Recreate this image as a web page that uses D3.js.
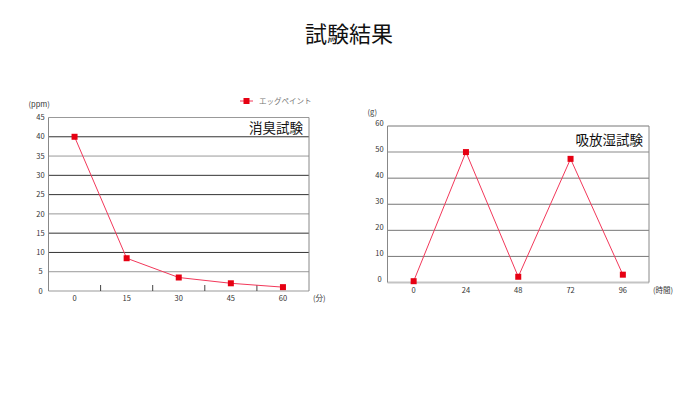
<!DOCTYPE html>
<html>
<head>
<meta charset="utf-8">
<script src="https://cdn.jsdelivr.net/npm/d3@7"></script>
<style>
	body { margin: 0; background: #fff; }
	svg { display: block; font-family: "Noto Sans CJK JP", "Noto Sans", sans-serif; }
</style>
</head>
<body>
<svg id="chart" width="700" height="400"></svg>
<script>
(function(){
	'use strict';

	// 消臭試験 data
	var odorMinutes = ["0", "15", "30", "45", "60"];
	var odorPpm = [40, 8.5, 3.5, 2, 1];
	var odorTicks = [0, 5, 10, 15, 20, 25, 30, 35, 40, 45];

	// 吸放湿試験 data
	var humidHours = ["0", "24", "48", "72", "96"];
	var humidGrams = [0.5, 50, 2.2, 47.4, 3];
	var humidTicks = [0, 10, 20, 30, 40, 50, 60];

	var seriesName = "エッグペイント";
	var red = "#e60012";
	var lineRed = "#f2385a";

	var svg = d3.select("#chart");

	svg.append("text")
		.attr("x", 349)
		.attr("y", 42)
		.attr("text-anchor", "middle")
		.attr("font-size", 22)
		.attr("fill", "#111")
		.text("試験結果");

	function drawChart(opt){
		var xScale = d3.scaleBand()
			.domain(opt.categories)
			.range([opt.left, opt.right])
			.padding(0);
		var yScale = d3.scaleLinear()
			.domain([0, opt.max])
			.range([opt.bottom, opt.top]);

		var g = svg.append("g");

		// grid lines
		g.append("g")
			.selectAll("line")
			.data(opt.ticks)
		.enter().append("line")
			.attr("x1", opt.left)
			.attr("x2", opt.right)
			.attr("y1", function(d){ return yScale(d); })
			.attr("y2", function(d){ return yScale(d); })
			.attr("stroke", function(d){ return opt.gridColor(d); })
			.attr("stroke-width", function(d){ return opt.gridWidth(d); });

		// side borders
		g.append("line")
			.attr("x1", opt.left).attr("x2", opt.left)
			.attr("y1", yScale(opt.max)).attr("y2", yScale(0))
			.attr("stroke", "#888");
		g.append("line")
			.attr("x1", opt.right).attr("x2", opt.right)
			.attr("y1", yScale(opt.max)).attr("y2", yScale(0))
			.attr("stroke", "#888");

		// y labels
		g.append("g")
			.selectAll("text")
			.data(opt.ticks)
		.enter().append("text")
			.attr("x", opt.left - 8)
			.attr("y", function(d){ return yScale(d) + opt.labelShift; })
			.attr("dy", "0.35em")
			.attr("text-anchor", "middle")
			.attr("font-size", 7.5)
			.attr("fill", "#333")
			.text(function(d){ return d; });

		// x axis: labels and inner ticks between categories
		var xAxis = d3.axisBottom(xScale).tickSize(0).tickPadding(5);
		var gx = g.append("g")
			.attr("transform", "translate(0," + yScale(0) + ")")
			.call(xAxis);
		gx.select(".domain").remove();
		gx.selectAll("text")
			.attr("font-size", 7.5)
			.attr("font-family", "\"Noto Sans CJK JP\", \"Noto Sans\", sans-serif")
			.attr("fill", "#333");

		if(opt.innerTicks){
			g.append("g")
				.selectAll("line")
				.data(opt.categories.slice(1))
			.enter().append("line")
				.attr("x1", function(d){ return xScale(d); })
				.attr("x2", function(d){ return xScale(d); })
				.attr("y1", yScale(0))
				.attr("y2", yScale(0) - 6)
				.attr("stroke", "#444");
		}

		// units
		g.append("text")
			.attr("x", opt.left - 20)
			.attr("y", yScale(opt.max) - 11)
			.attr("font-size", 7.5)
			.attr("fill", "#333")
			.text(opt.yUnit);
		g.append("text")
			.attr("x", opt.right + 4)
			.attr("y", yScale(0) + 10)
			.attr("font-size", 7.5)
			.attr("fill", "#333")
			.text(opt.xUnit);

		// chart title inside plot
		g.append("text")
			.attr("x", opt.right - 6)
			.attr("y", yScale(opt.max) + opt.titleOffset)
			.attr("text-anchor", "end")
			.attr("font-size", 13.5)
			.attr("fill", "#111")
			.text(opt.title);

		// line and markers
		var line = d3.line()
			.x(function(d, i){ return xScale(opt.categories[i]) + xScale.bandwidth() / 2; })
			.y(function(d){ return yScale(d); });

		g.append("path")
			.datum(opt.values)
			.attr("fill", "none")
			.attr("stroke", lineRed)
			.attr("stroke-width", 1)
			.attr("d", line);

		g.append("g")
			.selectAll("rect")
			.data(opt.values)
		.enter().append("rect")
			.attr("x", function(d, i){ return xScale(opt.categories[i]) + xScale.bandwidth() / 2 - 3; })
			.attr("y", function(d){ return yScale(d) - 3; })
			.attr("width", 6)
			.attr("height", 6)
			.attr("fill", red);
	}

	drawChart({
		categories: odorMinutes,
		values: odorPpm,
		ticks: odorTicks,
		max: 45,
		left: 48.5, right: 309, top: 117.5, bottom: 291,
		labelShift: 0,
		innerTicks: true,
		gridColor: function(d){ return d % 10 === 0 && d !== 0 && d !== 20 || d === 25 || d === 15 ? "#333" : "#999"; },
		gridWidth: function(){ return 1; },
		yUnit: "(ppm)",
		xUnit: "(分)",
		title: "消臭試験",
		titleOffset: 15
	});

	drawChart({
		categories: humidHours,
		values: humidGrams,
		ticks: humidTicks,
		max: 60,
		left: 387.5, right: 649, top: 126, bottom: 282.5,
		labelShift: -3,
		innerTicks: false,
		gridColor: function(d){ return d === 50 || d === 0 ? "#c4c4c4" : "#777"; },
		gridWidth: function(d){ return d === 50 || d === 0 ? 2 : 1; },
		yUnit: "(g)",
		xUnit: "(時間)",
		title: "吸放湿試験",
		titleOffset: 19
	});

	// legend
	var legend = svg.append("g").attr("transform", "translate(240,101)");
	legend.append("line")
		.attr("x1", 0).attr("x2", 13)
		.attr("stroke", lineRed);
	legend.append("rect")
		.attr("x", 3.5).attr("y", -3)
		.attr("width", 6).attr("height", 6)
		.attr("fill", red);
	legend.append("text")
		.attr("x", 19)
		.attr("dy", "0.35em")
		.attr("font-size", 7.5)
		.attr("fill", "#777")
		.text(seriesName);
}());
</script>
</body>
</html>
